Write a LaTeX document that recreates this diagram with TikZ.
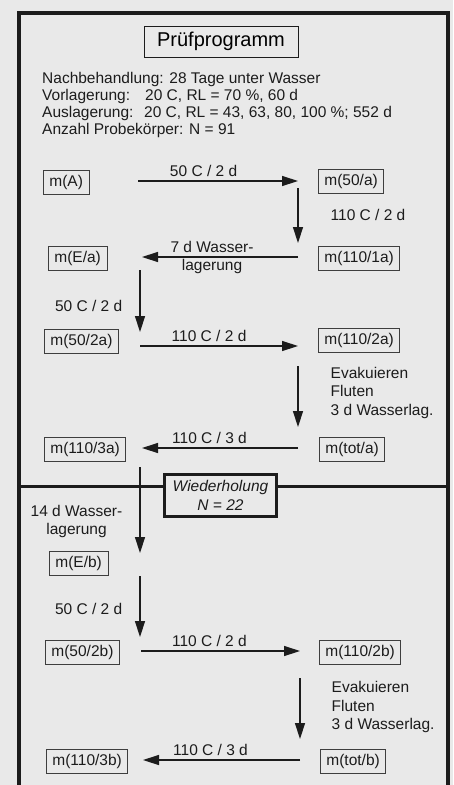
\documentclass[tikz,border=0pt]{standalone}
\usepackage{fontspec}
\setmainfont{Liberation Sans}
\usetikzlibrary{positioning,arrows.meta}

\definecolor{paper}{RGB}{233,233,233}
\definecolor{ink}{RGB}{28,28,28}

\begin{document}
\begin{tikzpicture}[
    x=1pt, y=-1pt,
    font=\fontsize{15.5pt}{18pt}\selectfont,
    mbox/.style={draw=ink!85, line width=0.8pt, anchor=west, inner xsep=6pt, inner ysep=0pt, minimum height=24pt, text=ink},
    arrow/.style={-{Triangle[length=16pt,width=10pt]}, line width=1.4pt, draw=ink},
    lbl/.style={inner sep=2pt, text=ink}
]
\fill[paper] (0,0) rectangle (453,785);
\useasboundingbox (0,0) rectangle (453,785);

% frame and divider
\draw[ink, line width=3.5pt] (19,792) |- (448,13) -- (448,792);
\draw[ink, line width=3pt] (19,486) -- (448,486);

\node[draw=ink, line width=1pt, minimum width=154pt, minimum height=31pt,
      font=\fontsize{20pt}{24pt}\selectfont] (title) at (221,41.5) {Prüfprogramm};
\node[anchor=north west, inner sep=0pt, align=left, text=ink,
      font=\fontsize{15.5pt}{17pt}\selectfont] (info) at (42,72.5)
  {Nachbehandlung: 28 Tage unter Wasser\\
   \makebox[103pt][l]{Vorlagerung:}20 C, RL = 70 \%, 60 d\\
   \makebox[102pt][l]{Auslagerung:}20 C, RL = 43, 63, 80, 100 \%; 552 d\\
   Anzahl Probekörper: N = 91};

\node[draw=ink, line width=3pt, fill=paper, minimum width=112pt, minimum height=42pt,
      align=center, text=ink, font=\itshape\fontsize{15.5pt}{19pt}\selectfont] (rep) at (220.5,495.5)
  {Wiederholung\\N = 22};

% measurements, first run
\node[mbox] (mA) at (43,182) {m(A)};
\node[mbox] (m50a) at (318,181.5) {m(50/a)};
\node[mbox] (mEa) at (48,258.5) {m(E/a)};
\node[mbox] (m1101a) at (318,258) {m(110/1a)};
\node[mbox] (m502a) at (44,341) {m(50/2a)};
\node[mbox] (m1102a) at (318,340.5) {m(110/2a)};
\node[mbox] (m1103a) at (44,449) {m(110/3a)};
\node[mbox] (mtota) at (319,449) {m(tot/a)};
% repetition
\node[mbox] (mEb) at (49,563.5) {m(E/b)};
\node[mbox] (m502b) at (45,652.5) {m(50/2b)};
\node[mbox] (m1102b) at (319,652.5) {m(110/2b)};
\node[mbox] (m1103b) at (46,761) {m(110/3b)};
\node[mbox] (mtotb) at (320,761) {m(tot/b)};

% corners of the arrow lanes
\coordinate (c0) at (138,181);
\coordinate (c1) at (298,181);
\coordinate (c2) at (298,257);
\coordinate (c3) at (140,257);
\coordinate (c4) at (140,346);
\coordinate (c5) at (298,346);
\coordinate (c6) at (298,448);
\coordinate (c7) at (140,448);
\coordinate (c8) at (140,563);
\coordinate (c9) at (140,651);
\coordinate (c10) at (300,651);
\coordinate (c11) at (300,760);
\coordinate (c12) at (143,760);

\draw[arrow] (c0) -- node[lbl, above=2pt, pos=0.41]{50 C / 2 d} (c1);
\draw[arrow, shorten <=7pt, shorten >=14pt] (c1) -- node[lbl, right=30pt, pos=0.447]{110 C / 2 d} (c2);
\draw[arrow, shorten >=2pt] (c2) -- node[lbl, pos=0.544, align=center, font=\fontsize{15.5pt}{18pt}\selectfont]{7 d Wasser-\\lagerung} (c3);
\draw[arrow, shorten <=13pt, shorten >=14pt] (c3) -- node[lbl, left=15pt, pos=0.55]{50 C / 2 d} (c4);
\draw[arrow] (c4) -- node[lbl, above=2pt, pos=0.437]{110 C / 2 d} (c5);
\draw[arrow, shorten <=20pt, shorten >=21pt] (c5) -- node[lbl, right=30pt, pos=0.46, align=left, font=\fontsize{15.5pt}{18.5pt}\selectfont]{Evakuieren\\Fluten\\3 d Wasserlag.} (c6);
\draw[arrow, shorten >=2pt] (c6) -- node[lbl, above=2pt, pos=0.56]{110 C / 3 d} (c7);
\draw[arrow, shorten <=19pt, shorten >=10pt] (c7) -- node[lbl, left=15pt, pos=0.635, align=center]{14 d Wasser-\\lagerung} (c8);
\draw[arrow, shorten <=13pt, shorten >=14pt] (c8) -- node[lbl, left=15pt, pos=0.52]{50 C / 2 d} (c9);
\draw[arrow, shorten <=1pt] (c9) -- node[lbl, above=2pt, pos=0.434]{110 C / 2 d} (c10);
\draw[arrow, shorten <=27pt, shorten >=21pt] (c10) -- node[lbl, right=29pt, pos=0.514, align=left, font=\fontsize{15.5pt}{18.5pt}\selectfont]{Evakuieren\\Fluten\\3 d Wasserlag.} (c11);
\draw[arrow] (c11) -- node[lbl, above=2pt, pos=0.57]{110 C / 3 d} (c12);
\end{tikzpicture}
\end{document}
